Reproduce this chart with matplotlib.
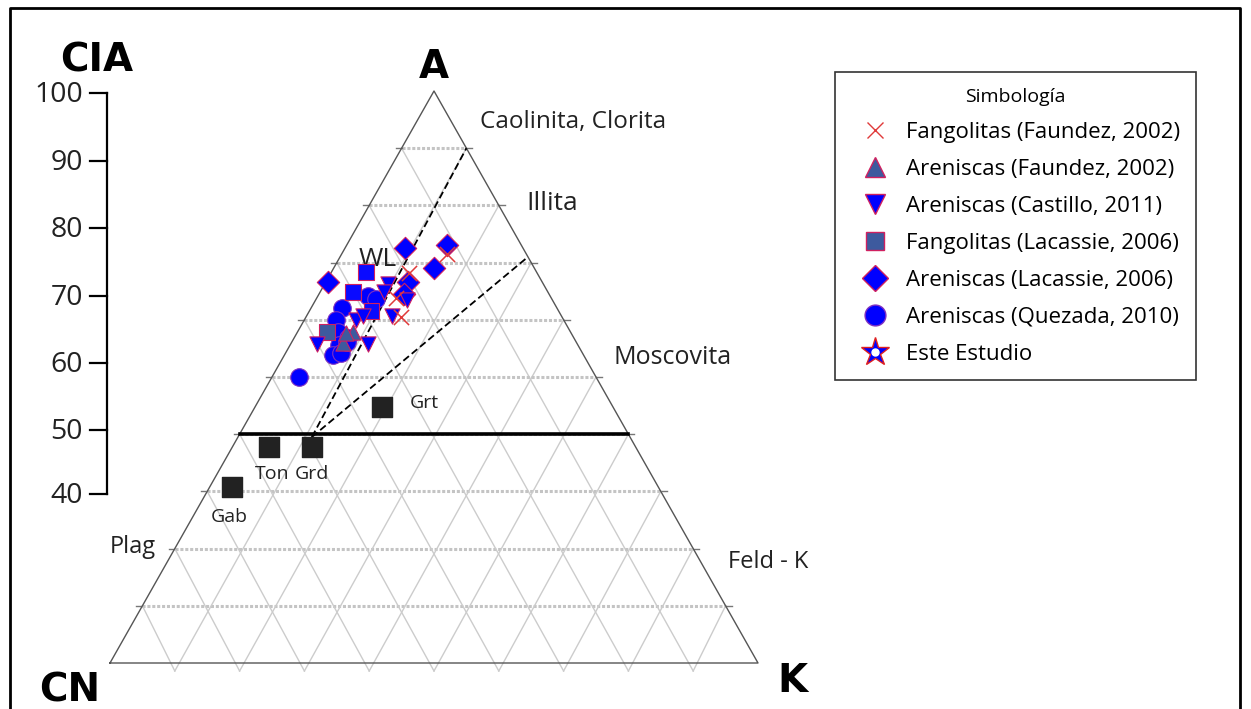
import matplotlib
matplotlib.use('Agg')
import matplotlib.pyplot as plt
from matplotlib.lines import Line2D
import numpy as np

plt.rcParams['font.family'] = ['Open Sans', 'DejaVu Sans']

# --- datos (A %, K %; CN = 100 - A - K) ---
fang_faundez_A = [71.5, 68.2, 63.8, 60.5]
fang_faundez_K = [16.2, 12.0, 12.2, 14.6]

aren_faundez_A = [57.9, 55.9, 57.7]
aren_faundez_K = [8.6, 8.0, 7.6]

aren_castillo_A = [66.3, 63.5, 60.7, 60.0, 60.7, 55.8, 55.8, 64.9]
aren_castillo_K = [9.8, 14.1, 13.2, 8.0, 8.7, 4.0, 11.9, 9.9]

fang_lacassie_A = [68.4, 64.9, 61.5, 57.9]
fang_lacassie_K = [5.3, 5.1, 9.6, 4.6]
fang_lacassie_col = ['#0a0aff', '#0a0aff', '#0a0aff', '#3d5a9e']

aren_lacassie_A = [72.6, 73.1, 69.1, 66.6, 66.6, 64.5]
aren_lacassie_K = [9.2, 15.5, 15.5, 0.3, 12.7, 13.1]

aren_quezada_A = [62.1, 60.0, 57.9, 56.8, 55.6, 53.8, 54.2, 50.0, 64.2, 63.6, 56.1]
aren_quezada_K = [4.8, 4.9, 6.3, 8.3, 7.5, 7.5, 8.5, 4.2, 7.7, 9.2, 8.5]

ref_names = ['Gab', 'Ton', 'Grd', 'Grt']
ref_A = [30.8, 37.8, 37.8, 44.8]
ref_K = [3.4, 5.6, 12.3, 19.6]

# tendencias (inicio, Caolinita, Illita)
trend_A = [39.5, 90.0, 71.0]
trend_K = [11.4, 10.0, 29.0]

cia_ticks = [100, 90, 80, 70, 60, 50, 40]

# --- geometria del triangulo (pixeles) ---
X_CN, X_K, Y_BASE, H = 110, 758, 663, 572


def tern(a, k):
    a = np.asarray(a, dtype=float)
    k = np.asarray(k, dtype=float)
    x = X_CN + (X_K - X_CN) * (k + a / 2) / 100
    y = Y_BASE - H * a / 100
    return x, y


fig = plt.figure(figsize=(12.51, 7.09), dpi=100)
ax = fig.add_axes([0, 0, 1, 1])
ax.set_xlim(0, 1251)
ax.set_ylim(709, 0)
ax.axis('off')

# marco exterior
ax.plot([10, 10, 1240, 1240], [720, 8, 8, 720], color='black', lw=2)

# rejilla
for i in range(1, 10):
    v = 10 * i
    # horizontales (A constante)
    x, y = tern([v, v], [0, 100 - v])
    ax.plot(x, y, color='#c4c4c4', lw=2.2, ls=(0, (1, 0.6)), zorder=1)
    ax.plot([x[0] - 6, x[0]], [y[0], y[0]], color='#777777', lw=1, zorder=1)
    ax.plot([x[1], x[1] + 6], [y[1], y[1]], color='#777777', lw=1, zorder=1)
    # K constante
    x, y = tern([-1.4, 100 - v], [v + 0.7, v])
    ax.plot(x, y, color='#cccccc', lw=1, zorder=1)
    # CN constante
    x, y = tern([-1.4, 100 - v], [100 - v + 0.7, 0])
    ax.plot(x, y, color='#cccccc', lw=1, zorder=1)

# bordes
x, y = tern([0, 100, 0, 0], [0, 0, 100, 0])
ax.plot(x, y, color='#555555', lw=1, zorder=2)

# linea CIA = 50
x, y = tern([40, 40], [0, 60])
ax.plot(x, y, color='black', lw=2.6, zorder=3)

# tendencias
for i in (1, 2):
    x, y = tern([trend_A[0], trend_A[i]], [trend_K[0], trend_K[i]])
    ax.plot(x, y, color='black', lw=1.3, ls=(0, (4, 2)), zorder=3)

# eje CIA
cia_y = {100: 93, 90: 161, 80: 228, 70: 296, 60: 363, 50: 430, 40: 494}
ax.plot([107, 107], [cia_y[100], cia_y[40]], color='black', lw=1.6)
for t in cia_ticks:
    ax.plot([90, 107], [cia_y[t], cia_y[t]], color='black', lw=1.6)
    ax.text(83, cia_y[t] + 2, str(t), ha='right', va='center', fontsize=20.5, color='#222222')

# rocas de referencia
x, y = tern(ref_A, ref_K)
ax.scatter(x, y, marker='s', s=190, color='#222222', zorder=4)
offs = {'Gab': (-3, 30), 'Ton': (3, 27), 'Grd': (0, 27), 'Grt': (42, -4)}
for n, xi, yi in zip(ref_names, x, y):
    dx, dy = offs[n]
    ax.text(xi + dx, yi + dy, n, ha='center', va='center', fontsize=14, color='#222222')

# datos
edge = '#d02060'
x, y = tern(aren_quezada_A, aren_quezada_K)
ax.scatter(x, y, marker='o', s=160, facecolor='#0000ff', edgecolor='#8030c0', lw=0.8, zorder=5)
x, y = tern(fang_lacassie_A, fang_lacassie_K)
ax.scatter(x, y, marker='s', s=130, facecolor=fang_lacassie_col, edgecolor=edge, lw=0.8, zorder=5)
x, y = tern(aren_lacassie_A, aren_lacassie_K)
ax.scatter(x, y, marker='D', s=130, facecolor='#0000ff', edgecolor=edge, lw=0.8, zorder=5)
x, y = tern(aren_castillo_A, aren_castillo_K)
ax.scatter(x, y, marker='v', s=120, facecolor='#0000ff', edgecolor=edge, lw=0.8, zorder=5)
x, y = tern(aren_faundez_A, aren_faundez_K)
ax.scatter(x, y, marker='^', s=120, facecolor='#3d5a9e', edgecolor=edge, lw=0.8, zorder=6)
x, y = tern(fang_faundez_A, fang_faundez_K)
ax.scatter(x, y, marker='x', s=120, color='#e03a3a', lw=1.1, zorder=6)

# etiquetas
bold = dict(fontsize=28, fontweight='bold', family='DejaVu Sans', ha='center', va='center')
ax.text(97, 60, 'CIA', **bold)
ax.text(434, 67, 'A', **bold)
ax.text(70, 690, 'CN', **bold)
ax.text(792, 681, 'K', **bold)
ax.text(378, 259, 'WL', fontsize=19, ha='center', va='center', color='#222222')
ax.text(480, 122, 'Caolinita, Clorita', fontsize=17.5, ha='left', va='center', color='#222222')
ax.text(526, 203, 'Illita', fontsize=19, ha='left', va='center', color='#222222')
ax.text(613, 357, 'Moscovita', fontsize=18, ha='left', va='center', color='#222222')
ax.text(728, 562, 'Feld - K', fontsize=17, ha='left', va='center', color='#222222')
ax.text(110, 547, 'Plag', fontsize=17, ha='left', va='center', color='#222222')

# leyenda
ms = 15
handles = [
    Line2D([], [], ls='none', marker='x', ms=12, color='#e03a3a', mew=1),
    Line2D([], [], ls='none', marker='^', ms=ms, mfc='#3d5a9e', mec=edge),
    Line2D([], [], ls='none', marker='v', ms=ms, mfc='#0000ff', mec=edge),
    Line2D([], [], ls='none', marker='s', ms=13, mfc='#3d5a9e', mec=edge),
    Line2D([], [], ls='none', marker='D', ms=13, mfc='#0000ff', mec=edge),
    Line2D([], [], ls='none', marker='o', ms=ms, mfc='#0000ff', mec='#8030c0'),
    (Line2D([], [], ls='none', marker='*', ms=21, mfc='#0000ff', mec='#e02020', mew=1),
     Line2D([], [], ls='none', marker='o', ms=5, mfc='white', mec='white')),
]
labels = ['Fangolitas (Faundez, 2002)', 'Areniscas (Faundez, 2002)',
          'Areniscas (Castillo, 2011)', 'Fangolitas (Lacassie, 2006)',
          'Areniscas (Lacassie, 2006)', 'Areniscas (Quezada, 2010)', 'Este Estudio']
leg = fig.legend(handles, labels, loc='upper left', bbox_to_anchor=(835 / 1251, 1 - 72 / 709),
                 title='Simbología', fontsize=16, title_fontsize=14, frameon=True,
                 fancybox=False, edgecolor='black', borderpad=0.7, labelspacing=0.72,
                 handlelength=2.2, handletextpad=0.3, borderaxespad=0)
leg.get_frame().set_linewidth(1.2)

plt.savefig('out.png', dpi=100)
